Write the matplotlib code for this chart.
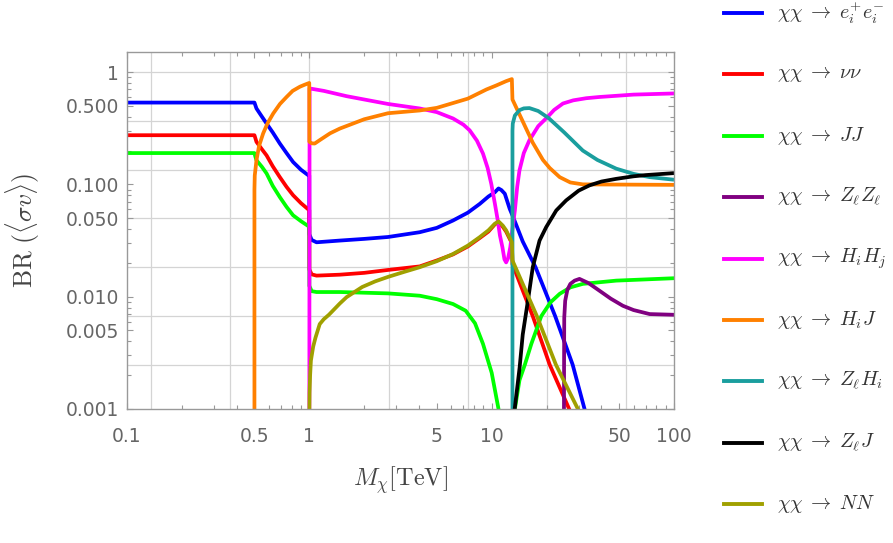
import numpy as np
import matplotlib
matplotlib.use("Agg")
import matplotlib.pyplot as plt
from matplotlib.lines import Line2D
from matplotlib.ticker import FixedLocator, FixedFormatter, NullFormatter

plt.rcParams['mathtext.fontset'] = 'cm'

# branching ratios, M_chi in TeV
x_ee = [0.1, 0.5, 0.505, 0.513, 0.55, 0.583, 0.63, 0.689, 0.75, 0.815, 0.9, 0.977, 0.999, 1.0, 1.03,
        1.095, 1.47, 2.0, 2.7, 4.03, 5.0, 6.14, 7.4, 8.6, 9.6, 10.4, 10.9, 11.3, 11.8, 12.55, 13.2,
        14.8, 17.4, 22.3, 27.8, 32.3, 34.0]
y_ee = [0.535, 0.535, 0.51, 0.474, 0.40, 0.348, 0.29, 0.231, 0.19, 0.158, 0.135, 0.122, 0.12, 0.036,
        0.032, 0.0305, 0.0316, 0.0327, 0.034, 0.0375, 0.041, 0.0477, 0.056, 0.067, 0.078, 0.085,
        0.092, 0.089, 0.0826, 0.0607, 0.0498, 0.031, 0.0183, 0.0067, 0.00248, 0.001, 0.0007]

x_vv = [0.1, 0.5, 0.505, 0.513, 0.55, 0.583, 0.63, 0.689, 0.75, 0.815, 0.9, 0.977, 0.999, 1.0, 1.03,
        1.095, 1.47, 2.0, 2.7, 4.03, 5.0, 6.14, 7.4, 8.6, 9.6, 10.4, 10.9, 11.5, 12.0, 12.9, 13.0,
        16.8, 20.8, 26.6, 28.0]
y_vv = [0.274, 0.274, 0.26, 0.239, 0.205, 0.181, 0.145, 0.116, 0.095, 0.08, 0.068, 0.0607, 0.059,
        0.0175, 0.0158, 0.0154, 0.0157, 0.0163, 0.0173, 0.0186, 0.021, 0.0238, 0.028, 0.0333, 0.038,
        0.044, 0.046, 0.042, 0.038, 0.030, 0.0195, 0.0067, 0.00248, 0.001, 0.0008]

x_jj = [0.1, 0.5, 0.505, 0.513, 0.55, 0.583, 0.63, 0.689, 0.75, 0.815, 0.9, 0.977, 0.999, 1.0, 1.03,
        1.095, 1.47, 2.7, 4.03, 5.0, 6.14, 7.2, 8.1, 8.96, 10.0, 10.9, 11.1, np.nan,
        13.3, 13.4, 14.2, 15.2, 16.5, 18.7, 21.0, 23.6, 27.0, 31.6, 48.2, 100]
y_jj = [0.19, 0.19, 0.178, 0.164, 0.143, 0.125, 0.097, 0.077, 0.063, 0.053, 0.047, 0.043, 0.042,
        0.0125, 0.0112, 0.011, 0.011, 0.0107, 0.0102, 0.0095, 0.0086, 0.0075, 0.0058, 0.0038, 0.0021,
        0.001, 0.0008, np.nan,
        0.0007, 0.001, 0.0018, 0.00248, 0.0038, 0.0067, 0.0089, 0.0106, 0.0121, 0.013, 0.0139, 0.0146]

x_zz = [24.9, 24.95, 25.0, 25.3, 26.0, 27.0, 28.5, 30.3, 34.0, 39.0, 45.0, 52.4, 60.0, 73.5, 100]
y_zz = [0.0007, 0.003, 0.0065, 0.0092, 0.0115, 0.013, 0.0139, 0.0144, 0.0132, 0.0113, 0.0096, 0.0083,
        0.0076, 0.007, 0.0069]

x_hh = [1.0, 1.003, 1.2, 1.6, 2.7, 4.03, 5.0, 6.14, 7.0, 7.57, 8.3, 8.96, 9.5, 9.95, 10.4, 10.8,
        11.1, 11.45, 11.75, 12.0, 12.3, 12.65, 13.0, 13.4, 13.8, 14.2, 15.0, 16.1, 18.0, 20.3, 22.0,
        24.6, 28.0, 33.0, 39.0, 60.0, 100]
y_hh = [0.0007, 0.715, 0.68, 0.61, 0.52, 0.474, 0.44, 0.386, 0.34, 0.303, 0.245, 0.188, 0.14, 0.101,
        0.068, 0.0477, 0.035, 0.0276, 0.0215, 0.0202, 0.022, 0.0276, 0.04, 0.0586, 0.095, 0.133, 0.19,
        0.247, 0.33, 0.40, 0.46, 0.525, 0.56, 0.585, 0.60, 0.63, 0.645]

x_hj = [0.5, 0.5, 0.502, 0.513, 0.53, 0.558, 0.59, 0.634, 0.69, 0.75, 0.81, 0.887, 0.94, 0.999, 1.0,
        1.03, 1.07, 1.15, 1.3, 1.47, 2.0, 2.7, 4.03, 5.0, 6.14, 7.4, 9.36, 10.6, 12.0, 12.9, 13.0, 14.2,
        15.5, 16.8, 19.1, 20.8, 23.6, 27.0, 31.6, 100]
y_hj = [0.0007, 0.09, 0.12, 0.164, 0.22, 0.284, 0.35, 0.428, 0.52, 0.60, 0.68, 0.74, 0.77, 0.80, 0.24,
        0.232, 0.231, 0.25, 0.285, 0.314, 0.38, 0.43, 0.455, 0.48, 0.53, 0.58, 0.70, 0.76, 0.83, 0.866,
        0.57, 0.42, 0.31, 0.235, 0.165, 0.14, 0.116, 0.104, 0.1, 0.099]

x_zh = [13.0, 13.0, 13.05, 13.4, 14.2, 15.0, 16.1, 18.0, 20.5, 25.0, 31.6, 38.0, 48.2, 60.0, 73.5, 100]
y_zh = [0.0007, 0.30, 0.348, 0.41, 0.458, 0.475, 0.478, 0.45, 0.39, 0.29, 0.20, 0.165, 0.138, 0.124,
        0.116, 0.110]

x_zj = [13.3, 13.37, 14.23, 14.8, 15.8, 16.8, 18.3, 19.9, 22.6, 25.6, 30.0, 34.4, 40.0, 48.2, 60.0,
        70.0, 100]
y_zj = [0.0007, 0.001, 0.00234, 0.0046, 0.0092, 0.0183, 0.0316, 0.0416, 0.0586, 0.072, 0.088, 0.098,
        0.106, 0.112, 0.118, 0.121, 0.126]

x_NN = [1.0, 1.001, 1.003, 1.01, 1.02, 1.05, 1.08, 1.14, 1.2, 1.28, 1.47, 1.6, 1.95, 2.3, 2.7, 3.3,
        4.03, 5.0, 6.14, 7.4, 8.6, 9.6, 10.4, 10.9, 11.5, 12.0, 12.9, 13.0, 17.7, 22.5, 29.7, 32.0]
y_NN = [0.0007, 0.001, 0.0014, 0.002, 0.0027, 0.0036, 0.0043, 0.0057, 0.0063, 0.0069, 0.0087, 0.0099,
        0.0122, 0.0137, 0.015, 0.0166, 0.0183, 0.0207, 0.024, 0.0285, 0.0339, 0.039, 0.0446, 0.0468,
        0.043, 0.039, 0.0305, 0.021, 0.0067, 0.00248, 0.001, 0.0007]

series = [
    (x_ee, y_ee, '#0000ff', r'$\chi\chi\;\rightarrow\; e_i^{+}e_i^{-}$'),
    (x_vv, y_vv, '#ff0000', r'$\chi\chi\;\rightarrow\; \nu\nu$'),
    (x_jj, y_jj, '#00ff00', r'$\chi\chi\;\rightarrow\; JJ$'),
    (x_zz, y_zz, '#800080', r'$\chi\chi\;\rightarrow\; Z_\ell Z_\ell$'),
    (x_hh, y_hh, '#ff00ff', r'$\chi\chi\;\rightarrow\; H_iH_j$'),
    (x_hj, y_hj, '#ff8000', r'$\chi\chi\;\rightarrow\; H_iJ$'),
    (x_zh, y_zh, '#1a9e9e', r'$\chi\chi\;\rightarrow\; Z_\ell H_i$'),
    (x_zj, y_zj, '#000000', r'$\chi\chi\;\rightarrow\; Z_\ell J$'),
    (x_NN, y_NN, '#a0a000', r'$\chi\chi\;\rightarrow\; NN$'),
]

x_major = [0.1, 0.5, 1, 5, 10, 50, 100]
x_major_lab = ['0.1', '0.5', '1', '5', '10', '50', '100']
y_major = [0.001, 0.005, 0.01, 0.05, 0.1, 0.5, 1]
y_major_lab = ['0.001', '0.005', '0.010', '0.050', '0.100', '0.500', '1']

fig = plt.figure(figsize=(8.93, 5.43), dpi=100)
ax = fig.add_axes([0.1422, 0.2468, 0.6126, 0.6575])

# Mathematica style grid lines at powers of e
for n in range(-2, 5):
    ax.axvline(np.exp(n), color='#d4d4d4', lw=0.9, zorder=0)
for n in range(-6, 1):
    ax.axhline(np.exp(n), color='#d4d4d4', lw=0.9, zorder=0)

for xs, ys, c, lab in series:
    ax.plot(xs, ys, color=c, lw=2.7, solid_joinstyle='round', solid_capstyle='butt', zorder=2)

ax.set_xscale('log')
ax.set_yscale('log')
ax.set_xlim(0.1, 100)
ax.set_ylim(0.001, 1.51)

minors_x = [m * d for d in [0.1, 1, 10] for m in range(2, 10) if m != 5]
minors_y = [m * d for d in [0.001, 0.01, 0.1] for m in range(2, 10) if m != 5]
ax.xaxis.set_major_locator(FixedLocator(x_major))
ax.xaxis.set_major_formatter(FixedFormatter(x_major_lab))
ax.xaxis.set_minor_locator(FixedLocator(minors_x))
ax.xaxis.set_minor_formatter(NullFormatter())
ax.yaxis.set_major_locator(FixedLocator(y_major))
ax.yaxis.set_major_formatter(FixedFormatter(y_major_lab))
ax.yaxis.set_minor_locator(FixedLocator(minors_y))
ax.yaxis.set_minor_formatter(NullFormatter())

ax.tick_params(which='both', direction='in', top=True, right=True, color='#999999', width=0.8,
               labelsize=13.5, labelcolor='#666666')
ax.tick_params(which='major', length=4.5)
ax.tick_params(which='minor', length=2.8)
ax.tick_params(axis='x', which='major', pad=13)
ax.tick_params(axis='y', which='major', pad=6)
for s in ax.spines.values():
    s.set_color('#999999')
    s.set_linewidth(1.0)

ax.set_xlabel(r'$M_\chi[\mathrm{TeV}]$', fontsize=17.5, color='#444444', labelpad=13)
ax.set_ylabel(r'$\mathrm{BR}\ (\langle\sigma v\rangle)$', fontsize=18.5, color='#444444', labelpad=17)

# legend to the right of the frame
for i, (xs, ys, c, lab) in enumerate(series):
    yy = 1 - (13 + 61.4 * i) / 543
    fig.add_artist(Line2D([724 / 893, 762 / 893], [yy, yy], color=c, lw=2.8))
    fig.text(777 / 893, yy, lab, fontsize=14.5, color='#333333', va='center', ha='left')

fig.savefig('out.png', dpi=100)
